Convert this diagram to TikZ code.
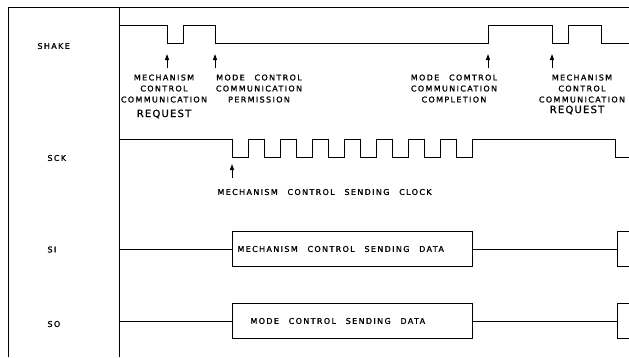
\documentclass[tikz,border=0pt]{standalone}
\usepackage{fontspec}
\newfontfamily\lett[LetterSpace=17,WordSpace=2.5,FakeBold=1.2]{DejaVu Sans}
\newfontfamily\letbig[LetterSpace=12,FakeBold=1]{DejaVu Sans}
\usetikzlibrary{arrows.meta}
\begin{document}
\begin{tikzpicture}[x=1pt,y=-1pt,line width=1pt,line join=miter,
  lbl/.style={font={\lett\fontsize{8}{11}\selectfont},align=center,inner sep=0pt},
  big/.style={font={\letbig\fontsize{10}{12}\selectfont},inner sep=0pt},
  sig/.style={font={\lett\fontsize{8}{11}\selectfont},inner sep=0pt,anchor=west},
  arr/.style={line width=1pt,-{Triangle[length=6pt,width=4pt]}},
  databox/.style={draw,line width=1pt,minimum height=35pt,minimum width=240pt,inner sep=0pt},
  stub/.style={draw,line width=1pt,minimum height=35pt,minimum width=40pt,inner sep=0pt}]
\useasboundingbox (0,0) rectangle (629,357);
\clip (0,0) rectangle (629,357);
% frame
\draw (8,357) -- (8,7) -- (629,7);
\draw (119,7) -- (119,357);
% signal names
\node[sig] (nshake) at (37,46) {SHAKE};
\node[sig] (nsck) at (47,158) {SCK};
\node[sig] (nsi) at (47,249.5) {SI};
\node[sig] (nso) at (47,324) {SO};
% SHAKE waveform
\draw (120,25) -- (167,25) -- (167,43) -- (183,43) -- (183,25) -- (215,25) -- (215,43)
  -- (488,43) -- (488,25) -- (552,25) -- (552,43) -- (568,43) -- (568,25) -- (601,25)
  -- (601,43) -- (629,43);
% SHAKE arrows
\coordinate (a1b) at (167,68); \coordinate (a1t) at (167,54);
\coordinate (a2b) at (215,68); \coordinate (a2t) at (215,54);
\coordinate (a3b) at (488,68); \coordinate (a3t) at (488,54);
\coordinate (a4b) at (552,68); \coordinate (a4t) at (552,54);
\draw[arr] (a1b) -- (a1t);
\draw[arr] (a2b) -- (a2t);
\draw[arr] (a3b) -- (a3t);
\draw[arr] (a4b) -- (a4t);
% SHAKE labels
\node[lbl,anchor=north] (l1) at (164,74) {MECHANISM\\CONTROL\\COMMUNICATION};
\node[big] (r1) at (164,114) {REQUEST};
\node[lbl,anchor=north] (l2) at (259,74) {MODE CONTROL\\COMMUNICATION\\PERMISSION};
\node[lbl,anchor=north] (l3) at (454,74) {MODE COMTROL\\COMMUNICATION\\COMPLETION};
\node[lbl,anchor=north] (l4) at (582,74) {MECHANISM\\CONTROL\\COMMUNICATION};
\node[big] (r2) at (577,110) {REQUEST};
% SCK waveform
\draw (120,139) \foreach \k in {0,...,7} { -- ({232+32.1*\k},139) -- ({232+32.1*\k},157)
  -- ({248+32.1*\k},157) -- ({248+32.1*\k},139) } -- (615,139) -- (615,157) -- (629,157);
\coordinate (a5b) at (232,178); \coordinate (a5t) at (232,164);
\draw[arr] (a5b) -- (a5t);
\node[sig] (lck) at (217,192) {MECHANISM CONTROL SENDING CLOCK};
% SI
\coordinate (si0) at (120,249);
\node[databox] (sibox) at (352,249) {};
\node[sig] (sitext) at (237,249) {MECHANISM CONTROL SENDING DATA};
\node[stub,anchor=west] (sibox2) at (617,249) {};
\draw (si0) -- (sibox.west);
\draw (sibox.east) -- (sibox2.west);
% SO
\coordinate (so0) at (120,321);
\node[databox] (sobox) at (352,321) {};
\node[sig] (sotext) at (250,321) {MODE CONTROL SENDING DATA};
\node[stub,anchor=west] (sobox2) at (617,321) {};
\draw (so0) -- (sobox.west);
\draw (sobox.east) -- (sobox2.west);
\end{tikzpicture}
\end{document}
